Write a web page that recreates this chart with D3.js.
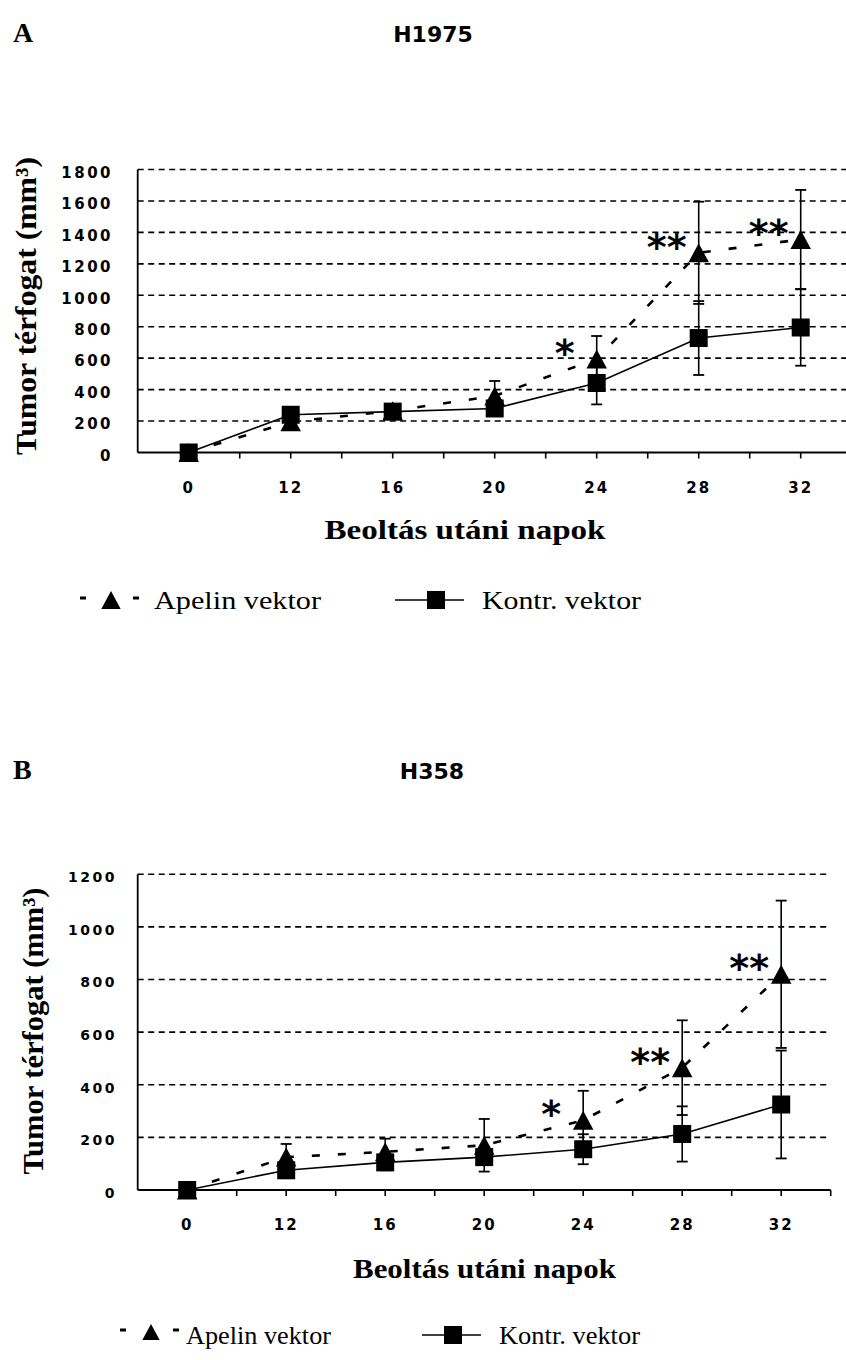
<!DOCTYPE html>
<html><head><meta charset="utf-8">
<script src="https://cdn.jsdelivr.net/npm/d3@7"></script>
<style>body{margin:0;background:#fff} svg{display:block}</style>
</head><body>
<svg id="c" width="846" height="1360"></svg>
<script>
// ---------- data ----------
const days = ["0","12","16","20","24","28","32"];
const seriesNames = ["Apelin vektor","Kontr. vektor"];
const yTitle = "Tumor térfogat (mm³)";
const xTitle = "Beoltás utáni napok";

// Panel A : H1975
const ticksA = [0,200,400,600,800,1000,1200,1400,1600,1800];
const apelinA = [0,195,265,360,595,1270,1355];
const apelinErrA = [0,20,25,95,146,325,315];
const kontrA = [0,240,260,280,442,728,795];
const kontrErrA = [0,15,20,20,136,235,243];
const sigA = ["","","","","*","**","**"];

// Panel B : H358
const ticksB = [0,200,400,600,800,1000,1200];
const apelinB = [0,125,145,170,265,465,820];
const apelinErrB = [0,50,50,100,112,180,280];
const kontrB = [0,75,105,125,155,213,325];
const kontrErrB = [0,30,30,30,57,105,205];
const sigB = ["","","","","*","**","**"];

// ---------- drawing ----------
const svg = d3.select("#c");
svg.append("rect").attr("width",846).attr("height",1360).attr("fill","#fff");

const SERIF = "'Liberation Serif','Times New Roman',serif";
const SANS = "'DejaVu Sans',Verdana,sans-serif";

function triPath(s){ const h=s/2; return `M0,${-h}L${h*1.08},${h}L${-h*1.08},${h}Z`; }

function panel(c){
  const g = svg.append("g");
  const x = d3.scaleBand().domain(days).range([c.left, c.right]).padding(0);
  const y = d3.scaleLinear().domain([0, d3.max(c.ticks)]).range([c.bottom, c.top]);
  const cx = d => x(d) + x.bandwidth()/2;

  // panel letter and title
  g.append("text").attr("x",13).attr("y",c.titleY).text(c.letter)
    .attr("font-family",SERIF).attr("font-weight","bold").attr("font-size",28);
  g.append("text").attr("x",c.titleX).attr("y",c.titleY).attr("text-anchor","middle").text(c.title)
    .attr("font-family",SANS).attr("font-weight","bold").attr("font-size",22);

  // gridlines
  g.selectAll(".grid").data(c.ticks.filter(t=>t>0)).join("line")
    .attr("x1",c.left).attr("x2",c.right).attr("y1",d=>y(d)).attr("y2",d=>y(d))
    .attr("stroke","#000").attr("stroke-width",1.6).attr("stroke-dasharray","6,4.5");

  // y axis
  const ya = g.append("g").attr("transform",`translate(${c.left},0)`)
    .call(d3.axisLeft(y).tickValues(c.ticks).tickFormat(d3.format("d")).tickSize(0).tickPadding(c.left-c.yLabelRight));
  ya.select(".domain").remove();
  ya.selectAll("text").attr("font-family",SANS).attr("font-weight","bold")
    .attr("font-size",c.yFont).attr("letter-spacing",c.ySpacing).attr("dy","0.52em").attr("fill","#000");
  g.append("line").attr("x1",c.left).attr("x2",c.left).attr("y1",c.bottom).attr("y2",c.top)
    .attr("stroke","#000").attr("stroke-width",1.8);

  // x axis
  const xa = g.append("g").attr("transform",`translate(0,${c.bottom})`)
    .call(d3.axisBottom(x).tickSize(0).tickPadding(c.xPad));
  xa.select(".domain").remove();
  xa.selectAll("text").attr("font-family",SANS).attr("font-weight","bold")
    .attr("font-size",15).attr("letter-spacing",2).attr("fill","#000");
  g.append("line").attr("x1",c.left).attr("x2",c.right).attr("y1",c.bottom).attr("y2",c.bottom)
    .attr("stroke","#000").attr("stroke-width",1.8);
  const tickPos = [];
  days.forEach(d => { tickPos.push(x(d)+x.bandwidth()/2); tickPos.push(x(d)+x.bandwidth()); });
  g.selectAll(".xt").data(tickPos).join("line")
    .attr("x1",d=>d).attr("x2",d=>d).attr("y1",c.bottom).attr("y2",c.bottom+6)
    .attr("stroke","#000").attr("stroke-width",1.6);

  // axis titles
  g.append("text").attr("transform",`translate(${c.yTitleX},${c.yTitleY}) rotate(-90)`)
    .attr("text-anchor","middle").attr("font-family",SERIF).attr("font-weight","bold")
    .attr("font-size",30).attr("textLength",c.yTitleLen).attr("lengthAdjust","spacingAndGlyphs")
    .text(yTitle);
  g.append("text").attr("x",c.xTitleX).attr("y",c.xTitleY).attr("text-anchor","middle")
    .attr("font-family",SERIF).attr("font-weight","bold").attr("font-size",28)
    .attr("textLength",c.xTitleLen).attr("lengthAdjust","spacingAndGlyphs").text(xTitle);

  const series = [
    {v:c.apelin, e:c.apelinErr, dash:"8,18", w:2.6, marker:"tri"},
    {v:c.kontr, e:c.kontrErr, dash:null, w:1.6, marker:"sq"}
  ];

  // error bars
  series.forEach(s=>{
    const eb = g.append("g");
    days.forEach((d,i)=>{
      if(!s.e[i]) return;
      const X = cx(d), y1 = y(s.v[i]+s.e[i]), y2 = y(Math.max(0,s.v[i]-s.e[i]));
      eb.append("line").attr("x1",X).attr("x2",X).attr("y1",y1).attr("y2",y2).attr("stroke","#000").attr("stroke-width",1.6);
      [y1,y2].forEach(yy=>eb.append("line").attr("x1",X-5.5).attr("x2",X+5.5).attr("y1",yy).attr("y2",yy).attr("stroke","#000").attr("stroke-width",1.8));
    });
  });

  // lines
  const line = d3.line().x((d,i)=>cx(days[i])).y(d=>y(d));
  series.forEach(s=>{
    g.append("path").datum(s.v).attr("d",line).attr("fill","none").attr("stroke","#000")
      .attr("stroke-width",s.w).attr("stroke-dasharray",s.dash);
  });

  // markers
  series.forEach(s=>{
    g.selectAll(null).data(s.v).join("path")
      .attr("transform",(d,i)=>`translate(${cx(days[i])},${y(d)})`)
      .attr("d", s.marker==="tri" ? triPath(19) : "M-9,-9H9V9H-9Z")
      .attr("fill","#000");
  });

  // significance stars
  g.selectAll(null).data(c.sig).join("text")
    .attr("x",(d,i)=>cx(days[i])-32).attr("y",(d,i)=>y(c.apelin[i])+7)
    .attr("text-anchor","middle").attr("font-family",SANS).attr("font-weight","bold")
    .attr("font-size",38).text(d=>d);

  // legend
  const L = c.legend;
  const lg = g.append("g");
  lg.append("rect").attr("x",L.d1).attr("y",L.sy-1.5).attr("width",6).attr("height",3).attr("fill","#000");
  lg.append("path").attr("transform",`translate(${L.tri},${L.sy+2})`).attr("d",triPath(L.triS)).attr("fill","#000");
  lg.append("rect").attr("x",L.d2).attr("y",L.sy-1.5).attr("width",6).attr("height",3).attr("fill","#000");
  lg.append("text").attr("x",L.t1).attr("y",L.ty).text(seriesNames[0]).attr("font-family",SERIF)
    .attr("font-size",26).attr("textLength",L.t1Len).attr("lengthAdjust","spacingAndGlyphs");
  lg.append("line").attr("x1",L.l1).attr("x2",L.l2).attr("y1",L.ky).attr("y2",L.ky).attr("stroke","#000").attr("stroke-width",1.6);
  lg.append("rect").attr("x",L.sq-9).attr("y",L.ky-9).attr("width",18).attr("height",18).attr("fill","#000");
  lg.append("text").attr("x",L.t2).attr("y",L.ty).text(seriesNames[1]).attr("font-family",SERIF)
    .attr("font-size",26).attr("textLength",L.t2Len).attr("lengthAdjust","spacingAndGlyphs");
}

panel({
  letter:"A", title:"H1975", titleX:433, titleY:42,
  left:137.7, right:851.7, top:169.5, bottom:452.5,
  ticks:ticksA, yLabelRight:113, yFont:15, ySpacing:2.5, xPad:30,
  apelin:apelinA, apelinErr:apelinErrA, kontr:kontrA, kontrErr:kontrErrA, sig:sigA,
  yTitleX:36, yTitleY:306, yTitleLen:298,
  xTitleX:465, xTitleY:539, xTitleLen:281,
  legend:{d1:80, tri:111, d2:133, sy:598, triS:18, t1:154, t1Len:167, ty:609,
          l1:395, l2:464, ky:600, sq:436, t2:482, t2Len:159}
});

panel({
  letter:"B", title:"H358", titleX:432, titleY:779,
  left:137.7, right:830.7, top:874.3, bottom:1190,
  ticks:ticksB, yLabelRight:117, yFont:14, ySpacing:2.5, xPad:29,
  apelin:apelinB, apelinErr:apelinErrB, kontr:kontrB, kontrErr:kontrErrB, sig:sigB,
  yTitleX:43, yTitleY:1031, yTitleLen:287,
  xTitleX:484.5, xTitleY:1278, xTitleLen:263,
  legend:{d1:120, tri:151, d2:173, sy:1330, triS:16, t1:186, t1Len:145, ty:1344,
          l1:422, l2:481, ky:1335, sq:453, t2:499, t2Len:141}
});
</script>
</body></html>
